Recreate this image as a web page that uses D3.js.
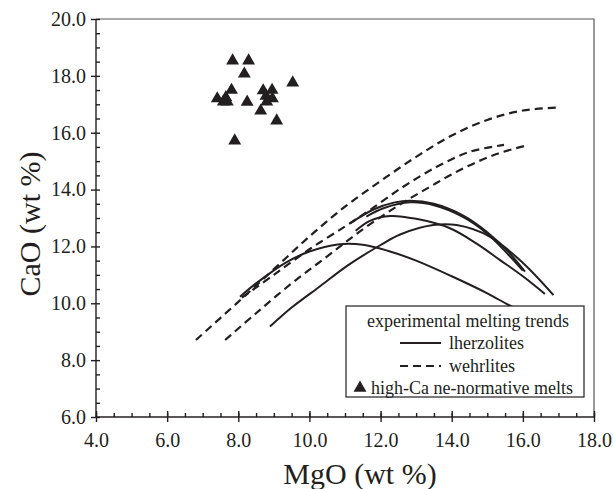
<!DOCTYPE html>
<html>
<head>
<meta charset="utf-8">
<script src="https://cdn.jsdelivr.net/npm/d3@7"></script>
<style>
	body { margin: 0; background: #fff; }
</style>
</head>
<body>
<div class="cao"></div>
<script>
// Paramètres de la visualisation
const width = 613;
const height = 489;
const margin = { top: 19, right: 19, bottom: 72, left: 96 };
const serif = '"Liberation Serif", "Times New Roman", serif';

// Données : liquides riches en Ca (triangles)
const meltMgO = [7.84, 8.29, 8.17, 9.53, 7.81, 7.41, 7.58, 7.69, 7.65, 8.25, 8.70, 8.95, 8.78, 8.96, 8.80, 8.63, 9.08, 7.90];
const meltCaO = [18.53, 18.53, 18.07, 17.76, 17.50, 17.20, 17.09, 17.09, 17.24, 17.08, 17.48, 17.50, 17.29, 17.20, 17.09, 16.77, 16.42, 15.72];

// Tendances de fusion expérimentale - lherzolites [MgO, CaO]
const lherzolite1 = [[8.05, 10.23], [8.5, 10.7], [9.36, 11.45], [10.0, 11.82], [10.8, 12.07], [11.5, 12.06], [12.2, 11.85], [13.0, 11.5], [14.0, 10.95], [15.0, 10.35], [15.6, 9.94], [16.3, 9.5]];
const lherzolite2 = [[8.89, 9.18], [9.5, 9.85], [10.3, 10.6], [11.1, 11.35], [12.0, 12.05], [12.55, 12.42], [13.48, 12.75], [14.14, 12.75], [15.08, 12.34], [16.01, 11.41], [16.86, 10.29]];
const lherzolite3 = [[11.14, 12.81], [11.8, 13.3], [12.4, 13.55], [12.83, 13.61], [13.5, 13.5], [14.3, 13.1], [15.0, 12.5], [15.6, 11.8], [16.06, 11.11]];
const lherzolite4 = [[11.6, 13.05], [12.1, 13.35], [12.83, 13.55], [13.5, 13.45], [14.3, 13.05], [15.0, 12.45], [15.6, 11.7], [16.0, 11.15]];
const lherzolite5 = [[11.3, 12.55], [11.7, 12.9], [12.27, 13.07], [13.0, 12.97], [13.95, 12.64], [14.7, 12.1], [15.36, 11.52], [16.0, 10.95], [16.62, 10.33]];

// Tendances de fusion expérimentale - wehrlites [MgO, CaO]
const wehrlite1 = [[6.81, 8.71], [8.0, 10.05], [9.0, 11.2], [10.0, 12.35], [11.0, 13.4], [12.0, 14.3], [13.0, 15.15], [14.0, 15.9], [15.0, 16.45], [16.0, 16.78], [17.06, 16.89]];
const wehrlite2 = [[8.1, 10.2], [9.0, 11.0], [10.0, 11.9], [11.0, 12.7], [11.7, 13.28], [12.64, 14.1], [13.58, 14.8], [14.51, 15.33], [15.47, 15.57]];
const wehrlite3 = [[7.63, 8.71], [8.5, 9.65], [9.5, 10.7], [10.5, 11.65], [11.5, 12.6], [12.45, 13.4], [13.39, 14.1], [14.33, 14.75], [15.26, 15.25], [16.16, 15.57]];

const lherzolites = [lherzolite1, lherzolite2, lherzolite3, lherzolite4, lherzolite5];
const wehrlites = [wehrlite1, wehrlite2, wehrlite3];

// Axes
const xDomain = [4, 18];
const yDomain = [6, 20];
const xMajorTicks = [4, 6, 8, 10, 12, 14, 16, 18];
const yMajorTicks = [6, 8, 10, 12, 14, 16, 18, 20];
const xMinorTicks = d3.range(4, 18.01, 0.5);
const yMinorTicks = d3.range(6, 20.01, 0.5);

// Légende
const legendTitle = 'experimental melting trends';
const legendLabels = ['lherzolites', 'wehrlites', 'high-Ca ne-normative melts'];

const ink = '#231f20';

function setup() {
	const svg = d3.select('.cao')
		.append('svg')
		.attr('width', width)
		.attr('height', height)
		.attr('font-family', serif);

	const scaleX = d3.scaleLinear()
		.domain(xDomain)
		.range([margin.left, width - margin.right]);

	const scaleY = d3.scaleLinear()
		.domain(yDomain)
		.range([height - margin.bottom, margin.top]);

	// Cadre (haut et droite)
	svg.append('path')
		.attr('d', `M${scaleX(4)},${scaleY(20)}H${scaleX(18)}V${scaleY(6)}`)
		.attr('fill', 'none')
		.attr('stroke', '#555')
		.attr('stroke-width', 1.2);

	// Courbes
	const line = d3.line()
		.x(d => scaleX(d[0]))
		.y(d => scaleY(d[1]))
		.curve(d3.curveCatmullRom.alpha(0.5));

	svg.append('g')
		.selectAll('path')
		.data(wehrlites)
		.join('path')
			.attr('d', line)
			.attr('fill', 'none')
			.attr('stroke', ink)
			.attr('stroke-width', 2.2)
			.attr('stroke-dasharray', '8,5');

	svg.append('g')
		.selectAll('path')
		.data(lherzolites)
		.join('path')
			.attr('d', line)
			.attr('fill', 'none')
			.attr('stroke', ink)
			.attr('stroke-width', 2);

	// Triangles
	const triangle = d3.symbol().type(d3.symbolTriangle).size(72);
	svg.append('g')
		.selectAll('path')
		.data(d3.range(meltMgO.length))
		.join('path')
			.attr('d', triangle)
			.attr('transform', i => `translate(${scaleX(meltMgO[i])},${scaleY(meltCaO[i])})`)
			.attr('fill', ink);

	// Axe horizontal : graduations mineures vers l'intérieur, majeures traversantes
	const x0 = scaleY(6);
	svg.append('g')
		.attr('transform', `translate(0,${x0})`)
		.call(d3.axisTop(scaleX).tickValues(xMinorTicks).tickSize(4).tickFormat(''))
		.call(g => g.select('.domain').remove());
	svg.append('g')
		.attr('transform', `translate(0,${x0})`)
		.call(d3.axisTop(scaleX).tickValues(xMajorTicks).tickSize(6).tickFormat(''))
		.call(g => g.select('.domain').remove());
	svg.append('g')
		.attr('transform', `translate(0,${x0})`)
		.call(d3.axisBottom(scaleX).tickValues(xMajorTicks).tickSize(5).tickPadding(11).tickFormat(d3.format('.1f')))
		.call(g => g.select('.domain').attr('d', `M${scaleX(4)},0H${scaleX(18)}`));

	// Axe vertical
	const y0 = scaleX(4);
	svg.append('g')
		.attr('transform', `translate(${y0},0)`)
		.call(d3.axisRight(scaleY).tickValues(yMinorTicks).tickSize(4).tickFormat(''))
		.call(g => g.select('.domain').remove());
	svg.append('g')
		.attr('transform', `translate(${y0},0)`)
		.call(d3.axisLeft(scaleY).tickValues(yMajorTicks).tickSize(5).tickPadding(5).tickFormat(d3.format('.1f')))
		.call(g => g.select('.domain').attr('d', `M0,${scaleY(6)}V${scaleY(20)}`));

	svg.selectAll('g')
		.attr('font-family', serif);
	svg.selectAll('.tick text')
		.attr('font-size', 20)
		.attr('fill', ink);
	svg.selectAll('.tick line, .domain')
		.attr('stroke', ink)
		.attr('stroke-width', 1.4);

	// Titres des axes
	svg.append('text')
		.attr('x', (scaleX(4) + scaleX(18)) / 2 + 15)
		.attr('y', 484)
		.attr('text-anchor', 'middle')
		.attr('font-size', 30)
		.attr('fill', ink)
		.text('MgO (wt %)');

	svg.append('text')
		.attr('transform', `translate(40,${(scaleY(6) + scaleY(20)) / 2 + 6}) rotate(-90)`)
		.attr('text-anchor', 'middle')
		.attr('font-size', 30)
		.attr('fill', ink)
		.text('CaO (wt %)');

	// Légende
	const legend = svg.append('g');
	legend.append('rect')
		.attr('x', 346)
		.attr('y', 306)
		.attr('width', 238)
		.attr('height', 91)
		.attr('fill', '#fff')
		.attr('stroke', ink)
		.attr('stroke-width', 1.2);

	legend.append('text')
		.attr('x', 468)
		.attr('y', 327)
		.attr('text-anchor', 'middle')
		.attr('font-size', 18)
		.attr('fill', ink)
		.text(legendTitle);

	legend.append('line')
		.attr('x1', 400).attr('x2', 441)
		.attr('y1', 343).attr('y2', 343)
		.attr('stroke', ink)
		.attr('stroke-width', 2);
	legend.append('line')
		.attr('x1', 400).attr('x2', 441)
		.attr('y1', 366).attr('y2', 366)
		.attr('stroke', ink)
		.attr('stroke-width', 2.2)
		.attr('stroke-dasharray', '8,5');
	legend.append('path')
		.attr('d', triangle)
		.attr('transform', 'translate(360,388)')
		.attr('fill', ink);

	legend.selectAll('text.item')
		.data(legendLabels)
		.join('text')
			.attr('class', 'item')
			.attr('x', (d, i) => i < 2 ? 449 : 371)
			.attr('y', (d, i) => [349, 372, 394][i])
			.attr('font-size', 18)
			.attr('fill', ink)
			.text(d => d);
}

// Lancement du script
setup();
</script>
</body>
</html>
